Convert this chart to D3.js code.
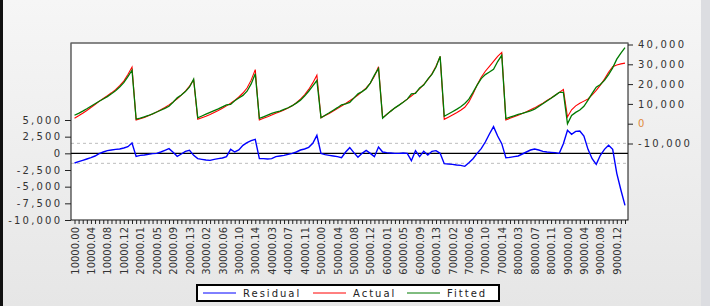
<!DOCTYPE html>
<html>
<head>
<meta charset="utf-8">
<script src="https://cdn.jsdelivr.net/npm/d3@7"></script>
<style>
  body { margin: 0; background: #eeeeee; }
  svg { display: block; }
</style>
</head>
<body>
<script>
// series names (legend order)
var seriesNames = ["Residual", "Actual", "Fitted"];
var seriesColors = ["#0000ff", "#ff0000", "#007a00"];

// actual values, 9 periods of 15 observations
var actual = [
  2800, 4000, 5300, 6700, 8200, 9700, 11300, 12700, 14100, 15600, 17200, 19200, 21500, 24800, 28600,
  1900, 2500, 3200, 4000, 4900, 5900, 7000, 8200, 9500, 11000, 12600, 14400, 16500, 19000, 22200,
  2200, 3000, 3800, 4700, 5700, 6700, 7800, 9000, 10300, 11800, 13500, 15500, 18000, 22000, 27300,
  1900, 2700, 3500, 4400, 5300, 6000, 6900, 7900, 9100, 10600, 12400, 14600, 17300, 20600, 24500,
  3000, 4100, 5200, 6400, 7600, 8900, 10200, 11600, 13000, 14500, 16200, 18100, 20500, 24000, 28800,
  3000, 4700, 6400, 8000, 9400, 10900, 12400, 14000, 15700, 17600, 19800, 22300, 25200, 29000, 34000,
  2200, 3300, 4400, 5500, 6800, 8300, 11000, 15000, 19500, 23500, 26500, 29000, 31500, 34000, 36000,
  1900, 2700, 3500, 4300, 5100, 6000, 7000, 8000, 9200, 10400, 11700, 13000, 14400, 15800, 17300,
  3400, 7000, 9000, 10300, 11400, 12500, 14500, 16800, 19500, 22500, 26000, 28800, 29600, 30200, 30600
];

// residuals (left axis)
var residual = [
  -1450, -1250, -1050, -850, -650, -400, -50, 200, 400, 500, 600, 650, 800, 1000, 1550,
  -450, -300, -250, -150, -50, 0, 200, 450, 700, 150, -450, -100, 300, 450, -300,
  -800, -900, -1000, -1050, -900, -800, -700, -500, 600, 200, 500, 1200, 1600, 1900, 2100,
  -800, -800, -850, -800, -500, -400, -300, -150, 0, 200, 500, 650, 900, 1500, 2700,
  0, -200, -300, -400, -500, -650, 200, 850, 100, -600, 0, 450, 0, -500, 950,
  200, 100, 50, 0, 0, 50, 0, -1100, 400, -500, 300, -250, 300, 400, 0,
  -1550, -1600, -1650, -1750, -1800, -1950, -1400, -800, 0, 700, 1700, 2900, 4000, 2600, 1450,
  -650, -600, -500, -400, -100, 200, 500, 650, 500, 300, 200, 150, 100, 0, 1450,
  3450, 2850, 3300, 3350, 2600, 600, -800, -1650, -300, 600, 1200, 600, -3000, -5500, -7800
];

// fitted = actual - residual
var fitted = actual.map(function(d, i) { return d - residual[i]; });

var residSD = 1500;

var leftTicks = [-10000, -7500, -5000, -2500, 0, 2500, 5000];
var rightTicks = [-10000, 0, 10000, 20000, 30000, 40000];

// x tick labels, every 4th observation
var xLabels = [
  "10000.00", "10000.04", "10000.08", "10000.12",
  "20000.01", "20000.05", "20000.09", "20000.13",
  "30000.02", "30000.06", "30000.10", "30000.14",
  "40000.03", "40000.07", "40000.11",
  "50000.00", "50000.04", "50000.08", "50000.12",
  "60000.01", "60000.05", "60000.09", "60000.13",
  "70000.02", "70000.06", "70000.10", "70000.14",
  "80000.03", "80000.07", "80000.11",
  "90000.00", "90000.04", "90000.08", "90000.12"
];

var w = 710, h = 306;
var plot = { left: 71, top: 43, right: 628, bottom: 220 };
var font = "'DejaVu Sans', Verdana, sans-serif";

var svg = d3.select("body")
            .append("svg")
            .attr("width", w)
            .attr("height", h);

var defs = svg.append("defs");
var grad = defs.append("linearGradient")
    .attr("id", "bg")
    .attr("x1", 0).attr("y1", 0).attr("x2", 0).attr("y2", 1);
grad.append("stop").attr("offset", "0%").attr("stop-color", "#f6f6f6");
grad.append("stop").attr("offset", "100%").attr("stop-color", "#e6e6e6");

svg.append("rect")
    .attr("width", w).attr("height", h)
    .attr("fill", "url(#bg)");
svg.append("rect")
    .attr("x", 0).attr("width", 3).attr("height", h)
    .attr("fill", "#111");
svg.append("rect")
    .attr("x", 701).attr("width", 9).attr("height", h)
    .attr("fill", "#dcdde1");

// plot area
svg.append("rect")
    .attr("x", plot.left).attr("y", plot.top)
    .attr("width", plot.right - plot.left)
    .attr("height", plot.bottom - plot.top)
    .attr("fill", "#fff");

var x = d3.scaleLinear()
    .domain([0, actual.length - 1])
    .range([74.5, 625]);

var yL = d3.scaleLinear()
    .domain([-10000, 5000])
    .range([plot.bottom, 120]);

var yR = d3.scaleLinear()
    .domain([-10000, 40000])
    .range([143.5, 44.5]);

var fmt = function(d) { return d3.format(",")(d).replace("\u2212", "-"); };

// std dev bands and zero line
svg.selectAll("line.band")
    .data([residSD, -residSD])
    .enter()
    .append("line")
    .attr("class", "band")
    .attr("x1", plot.left).attr("x2", plot.right)
    .attr("y1", function(d) { return yL(d); })
    .attr("y2", function(d) { return yL(d); })
    .attr("stroke", "#bdbdbd")
    .attr("stroke-dasharray", "3,3");

svg.append("line")
    .attr("x1", plot.left).attr("x2", plot.right)
    .attr("y1", yL(0)).attr("y2", yL(0))
    .attr("stroke", "#000")
    .attr("stroke-width", 1.2);

var lineL = d3.line()
    .x(function(d, i) { return x(i); })
    .y(function(d) { return yL(d); });

var lineR = d3.line()
    .x(function(d, i) { return x(i); })
    .y(function(d) { return yR(d); });

svg.append("path")
    .datum(residual)
    .attr("d", lineL)
    .attr("fill", "none")
    .attr("stroke", seriesColors[0])
    .attr("stroke-width", 1.4);

svg.append("path")
    .datum(actual)
    .attr("d", lineR)
    .attr("fill", "none")
    .attr("stroke", seriesColors[1])
    .attr("stroke-width", 1.1);

svg.append("path")
    .datum(fitted)
    .attr("d", lineR)
    .attr("fill", "none")
    .attr("stroke", seriesColors[2])
    .attr("stroke-width", 1.3);

// frame
svg.append("rect")
    .attr("x", plot.left).attr("y", plot.top)
    .attr("width", plot.right - plot.left)
    .attr("height", plot.bottom - plot.top)
    .attr("fill", "none")
    .attr("stroke", "#111");
svg.append("line")
    .attr("x1", plot.left).attr("x2", plot.right)
    .attr("y1", plot.top).attr("y2", plot.top)
    .attr("stroke", "#888");

// left axis
var gL = svg.append("g")
    .attr("transform", "translate(" + plot.left + ",0)")
    .call(d3.axisLeft(yL).tickValues(leftTicks).tickFormat(fmt).tickSize(6).tickPadding(5));

// right axis
var gR = svg.append("g")
    .attr("transform", "translate(" + plot.right + ",0)")
    .call(d3.axisRight(yR).tickValues(rightTicks).tickFormat(fmt).tickSize(5).tickPadding(5));

[gL, gR].forEach(function(g) {
    g.select(".domain").remove();
    g.selectAll("line").attr("stroke", "#222");
    g.selectAll("text")
        .attr("font-family", font)
        .attr("font-size", "10px")
        .attr("letter-spacing", "2.2px")
        .attr("fill", "#333");
});
gL.selectAll("text").attr("dx", "2.2px");
gR.selectAll("text")
    .filter(function(d) { return d === 0; })
    .attr("fill", "#e08a3a");

// bottom axis: tick every observation, label every 4th
var gX = svg.append("g")
    .attr("transform", "translate(0," + plot.bottom + ")")
    .call(d3.axisBottom(x)
        .tickValues(d3.range(actual.length))
        .tickSize(4)
        .tickFormat(function(i) { return i % 4 === 0 ? xLabels[i / 4] : ""; }));

gX.select(".domain").remove();
gX.selectAll("line").attr("stroke", "#222");
gX.selectAll("text")
    .attr("font-family", font)
    .attr("font-size", "10px")
    .attr("fill", "#333")
    .attr("text-anchor", "end")
    .attr("transform", "rotate(-90)")
    .attr("x", -7)
    .attr("y", 0)
    .attr("dy", "0.36em");

// legend
var legend = svg.append("g");
legend.append("rect")
    .attr("x", 197).attr("y", 285)
    .attr("width", 302).attr("height", 16)
    .attr("fill", "#fff")
    .attr("stroke", "#000")
    .attr("stroke-width", 2);

var legX = [203, 313, 407];
var item = legend.selectAll("g.item")
    .data(seriesNames)
    .enter()
    .append("g")
    .attr("class", "item")
    .attr("transform", function(d, i) { return "translate(" + legX[i] + ",293)"; });

item.append("line")
    .attr("x1", 0).attr("x2", 33)
    .attr("stroke", function(d, i) { return seriesColors[i]; })
    .attr("stroke-width", 1);

item.append("text")
    .text(function(d) { return d; })
    .attr("x", 40)
    .attr("dy", "0.36em")
    .attr("font-family", font)
    .attr("font-size", "10px")
    .attr("letter-spacing", "2px")
    .attr("fill", "#222");
</script>
</body>
</html>
